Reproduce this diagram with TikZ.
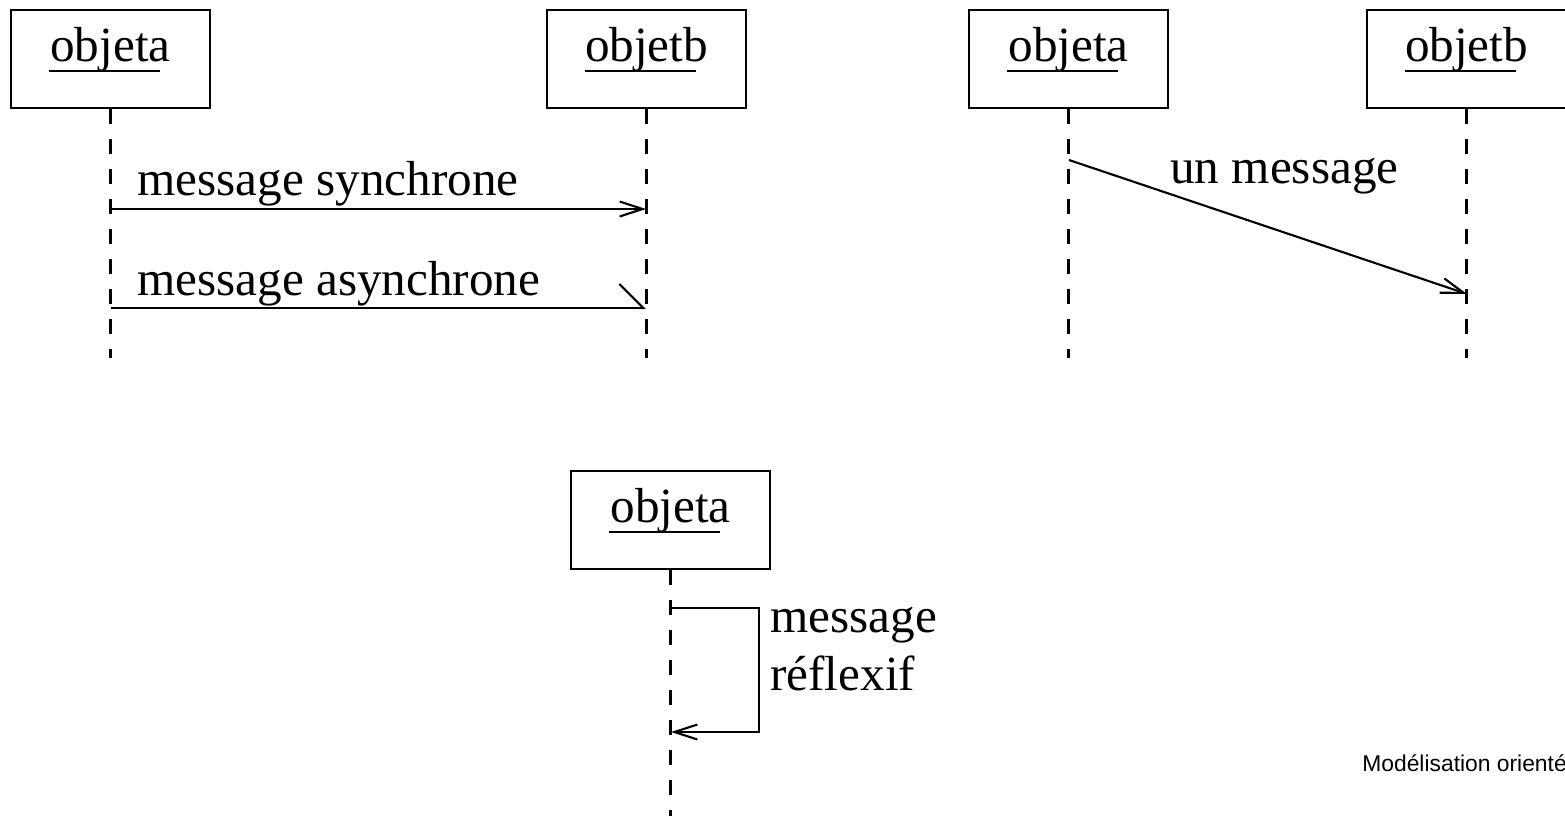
\documentclass[tikz,border=0pt]{standalone}
\usepackage{fontspec}
\setmainfont{Liberation Serif}
\newfontfamily\piedfont{Liberation Sans}
\usetikzlibrary{arrows.meta, positioning}

\tikzset{
  objet/.style={draw, line width=1.2pt, minimum width=3.98cm, minimum height=1.96cm,
    text height=0.6cm, text depth=0.52cm, inner sep=0pt, font=\fontsize{28}{34}\selectfont},
  vie/.style={line width=1.2pt, dash pattern=on 0.3cm off 0.3cm},
  msg/.style={line width=1.2pt, -{Straight Barb[length=0.46cm, width=0.3cm]}},
  msgasync/.style={line width=1.2pt, -{Straight Barb[harpoon, length=0.48cm, width=0.96cm]}},
  etiq/.style={anchor=base west, inner sep=0pt, font=\fontsize{28}{34}\selectfont}
}

\begin{document}
\begin{tikzpicture}[x=0.02cm, y=-0.02cm]
      \clip (0,0) rectangle (1565,816);

      % objets et lignes de vie
      \foreach \nom/\x/\y/\fin/\txt in {a1/110.5/59/358/objeta, b1/646.5/59/358/objetb, a2/1068.5/59/358/objeta, b2/1466.5/59/358/objetb, a3/670.5/520/816/objeta}{
        \node[objet] (\nom) at (\x,\y) {\txt};
        \draw[line width=1.2pt] (\nom.center) ++(-61.5,12) -- ++(111,0);
        \draw[vie] (\nom.south) -- (\x,\fin);
      }

      \coordinate (s1) at (111,209);
      \coordinate (s2) at (646,209);
      \coordinate (as1) at (111,308);
      \coordinate (as2) at (646,308);
      \coordinate (u1) at (1069,160);
      \coordinate (u2) at (1467,294);
      \coordinate (r1) at (671,608);
      \coordinate (r2) at (671,732);

      \draw[msg] (s1) -- (s2);
      \node[etiq] (lsync) at (137,195) {message synchrone};

      \draw[msgasync] (as1) -- (as2);
      \node[etiq] (lasync) at (137,295) {message asynchrone};

      \draw[msg] (u1) -- (u2);
      \node[etiq] (lun) at (1170,183) {un message};

      \draw[msg] (r1) -- ++(88,0) |- (r2);
      \node[etiq] (lref1) at (770,632) {message};
      \node[etiq] (lref2) at (770,690) {réflexif};

      \node[anchor=base west, inner sep=0pt, font=\piedfont\fontsize{13}{16}\selectfont] (pied) at (1362,771) {Modélisation orientée};

    \end{tikzpicture}
\end{document}
